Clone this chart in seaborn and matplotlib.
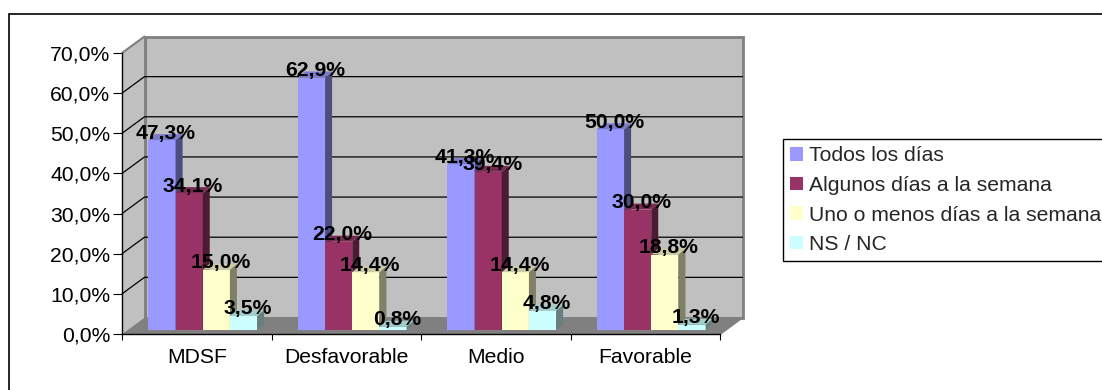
import matplotlib
matplotlib.use("Agg")
import matplotlib.pyplot as plt
import numpy as np
import pandas as pd
import seaborn as sns
from matplotlib.patches import Polygon, Rectangle, Patch
from matplotlib.transforms import IdentityTransform, ScaledTranslation

# ---- data -------------------------------------------------------------
categories = ["MDSF", "Desfavorable", "Medio", "Favorable"]
series = ["Todos los días", "Algunos días a la semana",
          "Uno o menos días a la semana", "NS / NC"]
todos_los_dias = [47.3, 62.9, 41.3, 50.0]
algunos_dias = [34.1, 22.0, 39.4, 30.0]
uno_o_menos = [15.0, 14.4, 14.4, 18.8]
ns_nc = [3.5, 0.8, 4.8, 1.3]
y_ticks = [0, 10, 20, 30, 40, 50, 60, 70]

# ---- styling ----------------------------------------------------------
front_colors = ["#9999FF", "#993366", "#FFFFCC", "#CCFFFF"]
side_colors = ["#4D4D80", "#4D1A33", "#808066", "#668080"]
top_colors = ["#7A7ACC", "#7A2952", "#CCCCA3", "#A3CCCC"]
WALL = "#C0C0C0"
FLOOR = "#808080"
EDGE = "#808080"

sns.set_theme(style="white")
plt.rcParams["font.family"] = ["Liberation Sans", "DejaVu Sans"]
FS = 15.2

values = [todos_los_dias, algunos_dias, uno_o_menos, ns_nc]
df = pd.DataFrame({
    "Categoría": np.tile(categories, len(series)),
    "Frecuencia": np.repeat(series, len(categories)),
    "Porcentaje": np.concatenate(values),
})

W_PX, H_PX, DPI = 1102, 390, 100
fig = plt.figure(figsize=(W_PX / DPI, H_PX / DPI), dpi=DPI)
fig.patch.set_facecolor("white")

# axes = front plane of the 3-D box
ax_l, ax_r, ax_t, ax_b = 122, 720, 53, 334
ax = fig.add_axes([ax_l / W_PX, (H_PX - ax_b) / H_PX,
                   (ax_r - ax_l) / W_PX, (ax_b - ax_t) / H_PX])
ax.patch.set_alpha(0)

sns.barplot(data=df, x="Categoría", y="Porcentaje", hue="Frecuencia",
            order=categories, hue_order=series,
            palette=dict(zip(series, front_colors)), saturation=1,
            width=0.727, errorbar=None, legend=False, linewidth=0, ax=ax)
ax.set_xlim(-0.5, len(categories) - 0.5)
ax.set_ylim(0, 70)
ax.set_xlabel("")
ax.set_ylabel("")

# depth offsets in pixels (right, up)
BACK = np.array([22.5, 16.5])
BAR_PLANE = np.array([6.0, 4.0])
BAR_DEPTH = np.array([7.0, 6.0])
PX2PT = 72 / DPI


def P(x, y):
    return np.array(ax.transData.transform((x, y)))


def poly(pts, **kw):
    p = Polygon(np.array(pts), closed=True, transform=IdentityTransform(),
                clip_on=False, **kw)
    ax.add_patch(p)
    return p


x0, x1 = ax.get_xlim()
ymax = ax.get_ylim()[1]

# back wall, side wall and floor
fl, fb = P(x0, 0), P(x1, 0)
tl, tr = P(x0, ymax), P(x1, ymax)
poly([fl + BACK, fb + BACK, tr + BACK, tl + BACK], facecolor=WALL,
     edgecolor=EDGE, linewidth=2, zorder=0.5)
poly([fl, fl + BACK, tl + BACK, tl], facecolor=WALL, edgecolor="none",
     zorder=0.5)
poly([fl, fb, fb + BACK, fl + BACK], facecolor=FLOOR, edgecolor="none",
     zorder=0.6)
# wall edges
for a, b in [(tl, tl + BACK), (fb, fb + BACK)]:
    ax.add_line(plt.Line2D([a[0], b[0]], [a[1], b[1]], color=EDGE, lw=1.5,
                           transform=IdentityTransform(), clip_on=False,
                           zorder=0.7))
ax.add_line(plt.Line2D([fl[0] + BACK[0]] * 2, [fl[1] + BACK[1], tl[1] + BACK[1]],
                       color=EDGE, lw=2, transform=IdentityTransform(),
                       clip_on=False, zorder=0.8))

# gridlines on side and back wall
for v in y_ticks[1:-1]:
    a = P(x0, v)
    b = a + BACK
    c = P(x1, v) + BACK
    ax.add_line(plt.Line2D([a[0], b[0], c[0]], [a[1], b[1], c[1]],
                           color="black", lw=0.9, transform=IdentityTransform(),
                           clip_on=False, zorder=0.9))

# bars with 3-D sides and tops
shift = ScaledTranslation(BAR_PLANE[0] / DPI, BAR_PLANE[1] / DPI,
                          fig.dpi_scale_trans)
for i, cont in enumerate(ax.containers):
    for rect in cont:
        x, w, h = rect.get_x(), rect.get_width(), rect.get_height()
        rect.set_transform(ax.transData + shift)
        rect.set_clip_on(False)
        rect.set_zorder(3 + i)
        trc = P(x + w, h) + BAR_PLANE
        tlc = P(x, h) + BAR_PLANE
        brc = P(x + w, 0) + BAR_PLANE
        poly([brc, trc, trc + BAR_DEPTH, brc + BAR_DEPTH],
             facecolor=side_colors[i], edgecolor="none", zorder=3 + i)
        poly([tlc, trc, trc + BAR_DEPTH, tlc + BAR_DEPTH],
             facecolor=top_colors[i], edgecolor="none", zorder=3 + i)
        ax.annotate(f"{h:.1f}%".replace(".", ","), xy=(x + w / 2, h),
                    xytext=(10 * PX2PT, 11 * PX2PT), textcoords="offset points",
                    ha="center", va="center", fontsize=FS, fontweight="bold",
                    color="black", zorder=20, annotation_clip=False)

# axes, ticks, labels
for s in ["top", "right"]:
    ax.spines[s].set_visible(False)
for s in ["left", "bottom"]:
    ax.spines[s].set_color("black")
    ax.spines[s].set_linewidth(1)
    ax.spines[s].set_zorder(2)
ax.set_yticks(y_ticks)
ax.set_yticklabels([f"{v:.1f}%".replace(".", ",") for v in y_ticks])
ax.tick_params(axis="y", direction="out", length=9 * PX2PT, width=0.8,
               pad=2, labelsize=FS, colors="black", left=True)
ax.set_xticks(range(len(categories)))
ax.set_xticklabels(categories)
ax.set_xticks(np.arange(-0.5, len(categories), 1.0), minor=True)
ax.tick_params(axis="x", which="major", length=0, pad=14 * PX2PT,
               labelsize=FS, colors="black")
ax.tick_params(axis="x", which="minor", direction="out", length=6 * PX2PT,
               width=0.8, color="black", bottom=True)

# legend
handles = [Patch(facecolor=c, edgecolor="none") for c in front_colors]
leg = fig.legend(handles, series, loc="upper left",
                 bbox_to_anchor=(783 / W_PX, 1 - 139 / H_PX),
                 fontsize=FS, frameon=True, fancybox=False, shadow=False,
                 framealpha=1, edgecolor="black", borderpad=0.35,
                 handlelength=0.62, handleheight=0.62, handletextpad=0.25,
                 labelspacing=0.5, borderaxespad=0)
leg.get_frame().set_linewidth(1)

# chart area border
fig.add_artist(Rectangle((9 / W_PX, -0.2), 1.2, 1.2 - 14 / H_PX,
                         transform=fig.transFigure, fill=False,
                         edgecolor="black", linewidth=1.2))

fig.savefig("out.png", dpi=DPI)
